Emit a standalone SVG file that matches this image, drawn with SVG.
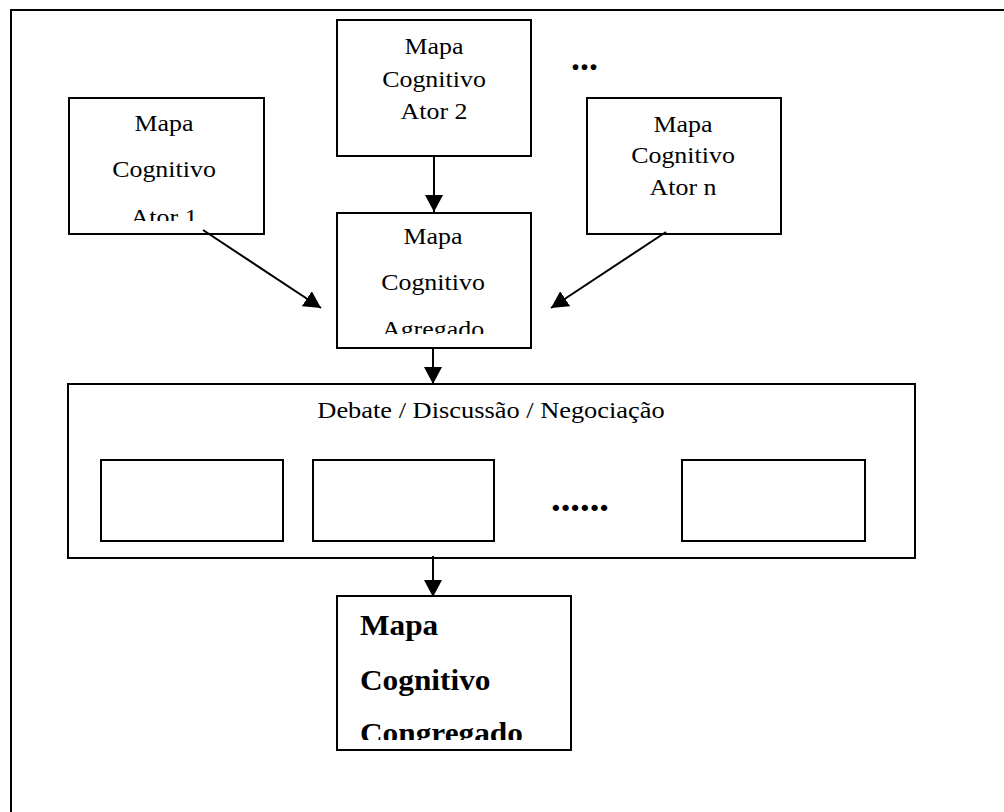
<svg xmlns="http://www.w3.org/2000/svg" width="1004" height="812" viewBox="0 0 1004 812">
  <style>
    .box { fill: #fff; stroke: #000; stroke-width: 2; }
    .frame { fill: none; stroke: #000; stroke-width: 2; }
    .lbl { font-family: "Liberation Serif", "Times New Roman", serif; font-size: 24px; fill: #000; text-anchor: middle; }
    .bold { font-family: "Liberation Serif", "Times New Roman", serif; font-size: 29px; font-weight: bold; fill: #000; }
    .dots { font-family: "Liberation Serif", "Times New Roman", serif; font-weight: bold; fill: #000; }
    .conn line { stroke: #000; stroke-width: 2; marker-end: url(#ah); }
  </style>
  <defs>
    <marker id="ah" markerUnits="userSpaceOnUse" markerWidth="18" markerHeight="18" refX="17" refY="9" orient="auto">
      <path d="M0,0 L17,9 L0,18 z" fill="#000"/>
    </marker>
    <clipPath id="clipA1"><rect x="69" y="98" width="195" height="123"/></clipPath>
    <clipPath id="clipAg"><rect x="337" y="213" width="194" height="121"/></clipPath>
    <clipPath id="clipCg"><rect x="337" y="596" width="234" height="144"/></clipPath>
  </defs>

  <rect width="1004" height="812" fill="#fff"/>

  <!-- outer page frame (runs off the right and bottom edges) -->
  <rect class="frame" x="11" y="10" width="1100" height="900"/>

  <g id="ator1">
    <rect class="box" x="69" y="98" width="195" height="136"/>
    <g clip-path="url(#clipA1)">
      <text class="lbl" transform="translate(164,131) scale(1.08,1)">Mapa</text>
      <text class="lbl" transform="translate(164,177) scale(1.08,1)">Cognitivo</text>
      <text class="lbl" transform="translate(164,225) scale(1.08,1)">Ator 1</text>
    </g>
  </g>

  <g id="ator2">
    <rect class="box" x="337" y="20" width="194" height="136"/>
    <text class="lbl" transform="translate(434,54) scale(1.08,1)">Mapa</text>
    <text class="lbl" transform="translate(434,87) scale(1.08,1)">Cognitivo</text>
    <text class="lbl" transform="translate(434,119) scale(1.08,1)">Ator 2</text>
  </g>

  <g id="ellipsis-top">
    <text class="dots" x="571" y="70" font-size="36" textLength="27" lengthAdjust="spacingAndGlyphs">...</text>
  </g>

  <g id="atorn">
    <rect class="box" x="587" y="98" width="194" height="136"/>
    <text class="lbl" transform="translate(683,132) scale(1.08,1)">Mapa</text>
    <text class="lbl" transform="translate(683,163) scale(1.08,1)">Cognitivo</text>
    <text class="lbl" transform="translate(683,195) scale(1.08,1)">Ator n</text>
  </g>

  <g id="agregado">
    <rect class="box" x="337" y="213" width="194" height="135"/>
    <g clip-path="url(#clipAg)">
      <text class="lbl" transform="translate(433,244) scale(1.08,1)">Mapa</text>
      <text class="lbl" transform="translate(433,290) scale(1.08,1)">Cognitivo</text>
      <text class="lbl" transform="translate(433,337) scale(1.08,1)">Agregado</text>
    </g>
  </g>

  <g id="debate">
    <rect class="box" x="68" y="384" width="847" height="174"/>
    <text class="lbl" transform="translate(491,418) scale(1.1,1)">Debate / Discussão / Negociação</text>
    <rect class="box" x="101" y="460" width="182" height="81"/>
    <rect class="box" x="313" y="460" width="181" height="81"/>
    <text class="dots" x="551" y="511" font-size="38" textLength="58" lengthAdjust="spacingAndGlyphs">......</text>
    <rect class="box" x="682" y="460" width="183" height="81"/>
  </g>

  <g id="congregado">
    <rect class="box" x="337" y="596" width="234" height="154"/>
    <g clip-path="url(#clipCg)">
      <text class="bold" transform="translate(360,635) scale(1.08,1)">Mapa</text>
      <text class="bold" transform="translate(360,690) scale(1.08,1)">Cognitivo</text>
      <text class="bold" transform="translate(360,743) scale(1.08,1)">Congregado</text>
    </g>
  </g>

  <g id="connectors" class="conn">
    <line x1="434" y1="156" x2="434" y2="212"/>
    <line x1="203" y1="230" x2="321" y2="308"/>
    <line x1="666" y1="232" x2="551" y2="308"/>
    <line x1="433" y1="348" x2="433" y2="384"/>
    <line x1="433" y1="556" x2="433" y2="597"/>
  </g>
</svg>
